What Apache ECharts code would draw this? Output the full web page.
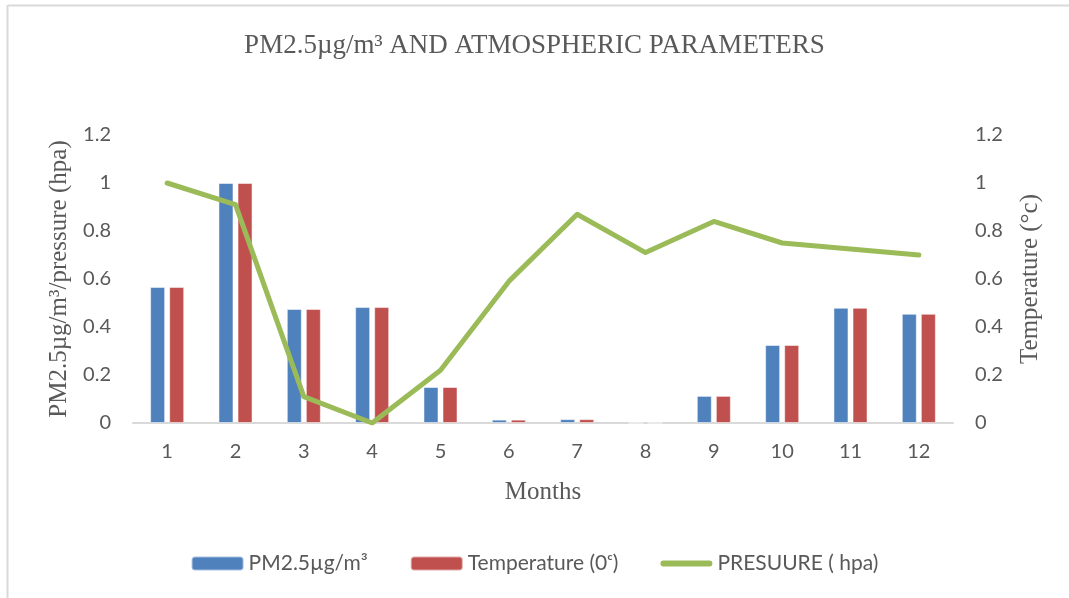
<!DOCTYPE html>
<html>
<head>
<meta charset="utf-8">
<script src="https://cdn.jsdelivr.net/npm/echarts@6/dist/echarts.min.js"></script>
<style>
  html, body { margin: 0; padding: 0; background: #fff; }
  #chart { width: 1069px; height: 598px; }
</style>
</head>
<body>
<div id="chart"></div>
<script>
// months on the x axis
const months = ['1', '2', '3', '4', '5', '6', '7', '8', '9', '10', '11', '12']

// normalised values
const pm25 = [0.567, 1.0, 0.475, 0.483, 0.15, 0.014, 0.016, 0, 0.113, 0.325, 0.48, 0.455]
const temperature = [0.567, 1.0, 0.475, 0.483, 0.15, 0.014, 0.016, 0, 0.113, 0.325, 0.48, 0.455]
const pressure = [1.0, 0.91, 0.11, 0.0, 0.22, 0.59, 0.87, 0.71, 0.84, 0.75, 0.725, 0.70]

const seriesNames = ['PM2.5µg/m³', 'Temperature (0ᶜ)', 'PRESUURE ( hpa)']

const textGrey = '#595959'
const serif = '"Liberation Serif", "DejaVu Serif", serif'
const sans = 'Lato, "Open Sans", sans-serif'

const chart = echarts.init(document.getElementById('chart'))

const valueAxis = (name, gap) => ({
  type: 'value',
  min: 0,
  max: 1.2,
  interval: 0.2,
  name: name,
  nameLocation: 'middle',
  nameGap: gap,
  nameTextStyle: { fontFamily: serif, fontSize: 25, color: textGrey },
  axisLine: { show: false },
  axisTick: { show: false },
  splitLine: { show: false },
  axisLabel: {
    color: textGrey,
    fontFamily: sans,
    fontSize: 20,
    margin: 22,
    formatter: v => String(Math.round(v * 10) / 10)
  }
})

chart.setOption({
  animation: false,
  backgroundColor: '#fff',
  title: {
    text: 'PM2.5µg/m³ AND ATMOSPHERIC PARAMETERS',
    left: 'center',
    top: 27,
    textStyle: { fontFamily: serif, fontSize: 27, fontWeight: 'normal', color: textGrey }
  },
  legend: {
    data: [
      seriesNames[0],
      seriesNames[1],
      { name: seriesNames[2], icon: 'path://M2,0 L40,0 A2.5,2.5 0 0 1 40,5 L2,5 A2.5,2.5 0 0 1 2,0 Z' }
    ],
    top: 548,
    left: 'center',
    itemWidth: 52,
    itemHeight: 14,
    itemGap: 42,
    textStyle: { fontFamily: sans, fontSize: 21, color: textGrey }
  },
  grid: { left: 133, right: 116, top: 135, bottom: 175 },
  xAxis: {
    type: 'category',
    data: months,
    name: 'Months',
    nameLocation: 'middle',
    nameGap: 57,
    nameTextStyle: { fontFamily: serif, fontSize: 25, color: textGrey },
    axisLine: { lineStyle: { color: '#d9d9d9', width: 2 } },
    axisTick: { show: false },
    axisLabel: { color: textGrey, fontFamily: sans, fontSize: 20, margin: 19 }
  },
  yAxis: [
    valueAxis('PM2.5µg/m³/pressure (hpa)', 60),
    valueAxis('Temperature (°c)', 65)
  ],
  series: [
    {
      name: seriesNames[0],
      type: 'bar',
      data: pm25,
      barWidth: 15,
      barGap: '27%',
      itemStyle: { color: '#4F81BD', borderColor: 'rgba(255,255,255,0.5)', borderWidth: 1 }
    },
    {
      name: seriesNames[1],
      type: 'bar',
      yAxisIndex: 1,
      data: temperature,
      barWidth: 15,
      itemStyle: { color: '#C0504D', borderColor: 'rgba(255,255,255,0.5)', borderWidth: 1 }
    },
    {
      name: seriesNames[2],
      type: 'line',
      data: pressure,
      symbol: 'none',
      lineStyle: { color: '#9BBB59', width: 5, cap: 'round', join: 'round' },
      itemStyle: { color: '#9BBB59' }
    }
  ],
  graphic: [
    { type: 'line', shape: { x1: 8, y1: 5.5, x2: 1069, y2: 5.5 }, style: { stroke: '#d9d9d9', lineWidth: 2 } },
    { type: 'line', shape: { x1: 7.5, y1: 5, x2: 7.5, y2: 598 }, style: { stroke: '#d9d9d9', lineWidth: 2 } }
  ]
})
</script>
</body>
</html>
